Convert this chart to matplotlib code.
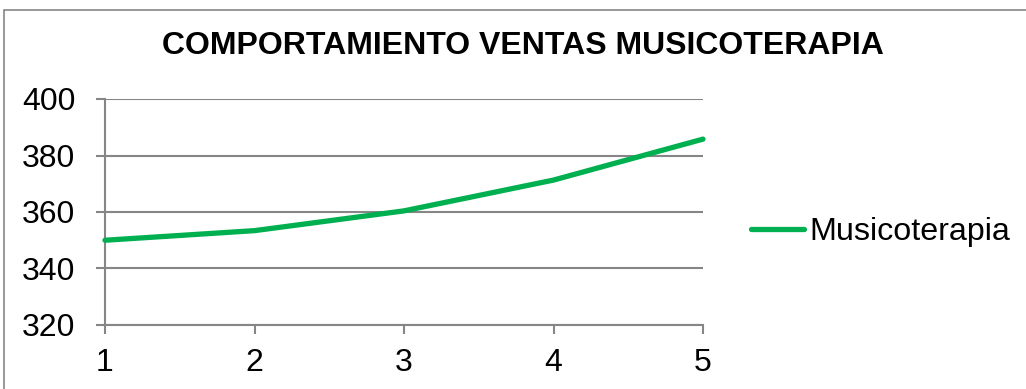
import matplotlib
matplotlib.use('Agg')
import matplotlib.pyplot as plt
from matplotlib.patches import Rectangle

# data
periodos = [1, 2, 3, 4, 5]
ventas = [350, 353.4, 360.4, 371.3, 385.8]
y_ticks = [320, 340, 360, 380, 400]
serie = 'Musicoterapia'
titulo = 'COMPORTAMIENTO VENTAS MUSICOTERAPIA'

plt.rcParams['font.family'] = ['Liberation Sans', 'DejaVu Sans']

W, H = 1026, 389
fig = plt.figure(figsize=(W/100, H/100), dpi=100)
ax = fig.add_axes([105/W, 1-325/H, (703-105)/W, (325-99)/H])

grey = '#868686'
line, = ax.plot(periodos, ventas, color='#00B050', lw=3.8, solid_capstyle='round',
                solid_joinstyle='round', label=serie, zorder=3, clip_on=False)

ax.set_xlim(1, 5)
ax.set_ylim(320, 400)
ax.set_xticks(periodos)
ax.set_yticks(y_ticks)
ax.yaxis.grid(True, color=grey, lw=1.5)
ax.set_axisbelow(True)
for s in ['top', 'right']:
    ax.spines[s].set_visible(False)
for s in ['left', 'bottom']:
    ax.spines[s].set_color(grey)
    ax.spines[s].set_linewidth(1.5)
ax.tick_params(axis='y', length=6.5, width=1.5, color=grey, labelsize=23, pad=15)
ax.tick_params(axis='x', length=6.5, width=1.5, color=grey, labelsize=23, pad=10)

fig.text(523/W, 1-46.5/H, titulo, ha='center', va='center', fontsize=23, fontweight='bold')

fig.legend(handles=[line], labels=[serie], loc='center left',
           bbox_to_anchor=(751/W, 1-232/H), frameon=False, fontsize=23.2,
           handlelength=1.65, handletextpad=0.15, borderpad=0, borderaxespad=0)

# outer chart frame (cut at right and bottom)
fig.patches.append(Rectangle((3.5/W, -0.1), 1.2, 1.1-9.5/H, transform=fig.transFigure,
                             fill=False, edgecolor=grey, lw=1.2))

fig.savefig('out.png', dpi=100)
